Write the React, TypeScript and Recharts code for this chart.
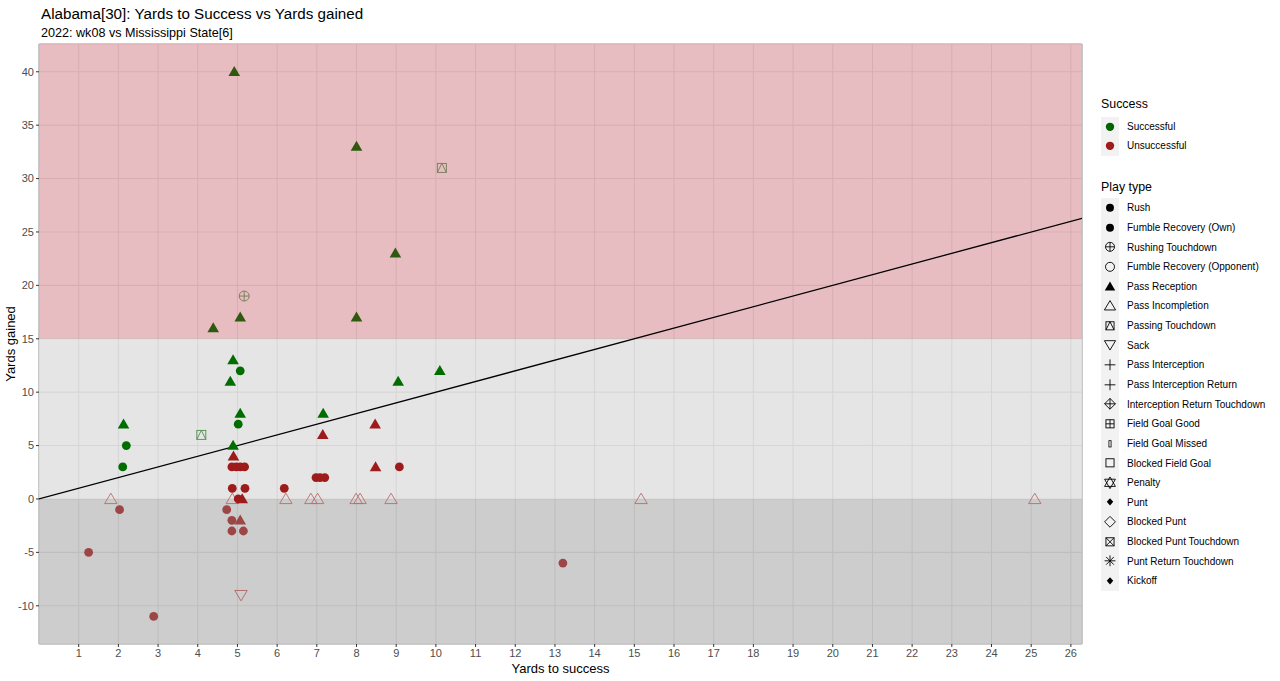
import React from "react"
import {
  ScatterChart,
  Scatter,
  XAxis,
  YAxis,
  CartesianGrid,
  ReferenceArea,
  ReferenceLine,
  Legend,
} from "recharts"

type Pt = [number, number]

// yards to success, yards gained
const rushSuccessful: Pt[] = [[5.07, 12], [2.2, 5], [2.11, 3], [5.02, 7]]
const rushUnsuccessful: Pt[] = [
  [4.86, 3], [4.97, 3], [5.07, 3], [5.18, 3],
  [4.87, 1], [5.19, 1], [6.18, 1],
  [6.98, 2], [7.08, 2], [7.2, 2], [9.08, 3],
  [5.02, 0], [4.73, -1], [4.86, -2], [4.86, -3], [5.15, -3],
  [2.03, -1], [1.25, -5], [2.89, -11], [13.2, -6],
]
const receptionSuccessful: Pt[] = [
  [4.92, 40], [8.0, 33], [8.98, 23], [8.0, 17], [4.39, 16], [5.07, 17],
  [4.89, 13], [4.82, 11], [9.05, 11], [10.1, 12], [2.13, 7], [5.07, 8],
  [7.16, 8], [4.89, 5],
]
const receptionUnsuccessful: Pt[] = [
  [4.9, 4], [7.15, 6], [8.47, 7], [8.48, 3], [5.07, -2], [5.12, 0],
]
const incompletions: Pt[] = [
  [1.81, 0], [4.87, 0], [6.22, 0], [6.85, 0], [7.02, 0], [7.99, 0],
  [8.09, 0], [8.87, 0], [15.17, 0], [25.09, 0],
]
const passingTouchdowns: Pt[] = [[4.09, 6], [10.15, 31]]
const rushingTouchdowns: Pt[] = [[5.17, 19]]
const sacks: Pt[] = [[5.09, -9]]

const xTicks = [1, 2, 3, 4, 5, 6, 7, 8, 9, 10, 11, 12, 13, 14, 15, 16, 17, 18, 19, 20, 21, 22, 23, 24, 25, 26]
const yTicks = [-10, -5, 0, 5, 10, 15, 20, 25, 30, 35, 40]
const zoneBreaks = [0, 15]

const successLabels = ["Successful", "Unsuccessful"]
const playTypes = [
  "Rush", "Fumble Recovery (Own)", "Rushing Touchdown", "Fumble Recovery (Opponent)",
  "Pass Reception", "Pass Incompletion", "Passing Touchdown", "Sack", "Pass Interception",
  "Pass Interception Return", "Interception Return Touchdown", "Field Goal Good",
  "Field Goal Missed", "Blocked Field Goal", "Penalty", "Punt", "Blocked Punt",
  "Blocked Punt Touchdown", "Punt Return Touchdown", "Kickoff",
]
const playGlyphs = [
  "dot", "dot", "circlePlus", "circleOpen", "tri", "triOpen", "sqTri", "triDown", "plus",
  "plus", "diamondPlus", "sqPlus", "thinRect", "sqOpen", "star", "diamondSmall",
  "diamondOpen", "sqX", "asterisk", "diamondSmall",
]

const FONT = '"Liberation Sans", Arial, Helvetica, sans-serif'
const X_DOMAIN: [number, number] = [0, 26.28]
const Y_DOMAIN: [number, number] = [-13.58, 42.6]

type Zone = "high" | "mid" | "low"
const zoneOf = (y: number): Zone => (y > zoneBreaks[1] ? "high" : y < zoneBreaks[0] ? "low" : "mid")

const colours: Record<string, Record<Zone, string>> = {
  good: { high: "#2e5a10", mid: "#006d00", low: "#1f5a1f" },
  bad: { high: "#7d2a1f", mid: "#9e1b1b", low: "#9c4646" },
  goodOpen: { high: "#6f7d55", mid: "#4f8f4f", low: "#4f7a4f" },
  badOpen: { high: "#a87070", mid: "#bd6c6c", low: "#b06565" },
}

function Glyph({ kind, cx, cy, color, k = 1 }: { kind: string; cx: number; cy: number; color: string; k?: number }) {
  const sw = 0.9
  const s = 5 * k
  switch (kind) {
    case "dot":
      return <circle cx={cx} cy={cy} r={4.4 * k} fill={color} />
    case "circleOpen":
      return <circle cx={cx} cy={cy} r={s} fill="none" stroke={color} strokeWidth={sw} />
    case "circlePlus":
      return (
        <g fill="none" stroke={color} strokeWidth={sw}>
          <circle cx={cx} cy={cy} r={s} />
          <line x1={cx - s} y1={cy} x2={cx + s} y2={cy} />
          <line x1={cx} y1={cy - s} x2={cx} y2={cy + s} />
        </g>
      )
    case "tri":
      return <polygon points={`${cx},${cy - 5.8 * k} ${cx - 5.8 * k},${cy + 4.2 * k} ${cx + 5.8 * k},${cy + 4.2 * k}`} fill={color} />
    case "triOpen":
      return <polygon points={`${cx},${cy - 5.8 * k} ${cx - 6.2 * k},${cy + 4.6 * k} ${cx + 6.2 * k},${cy + 4.6 * k}`} fill="none" stroke={color} strokeWidth={sw} />
    case "triDown":
      return <polygon points={`${cx},${cy + 5.8 * k} ${cx - 6.2 * k},${cy - 4.6 * k} ${cx + 6.2 * k},${cy - 4.6 * k}`} fill="none" stroke={color} strokeWidth={sw} />
    case "sqTri":
      return (
        <g fill="none" stroke={color} strokeWidth={sw}>
          <rect x={cx - 4.5 * k} y={cy - 4.5 * k} width={9 * k} height={9 * k} />
          <polyline points={`${cx - 4.5 * k},${cy + 4.5 * k} ${cx},${cy - 4.5 * k} ${cx + 4.5 * k},${cy + 4.5 * k}`} />
        </g>
      )
    case "plus":
      return (
        <g stroke={color} strokeWidth={sw}>
          <line x1={cx - 6 * k} y1={cy} x2={cx + 6 * k} y2={cy} />
          <line x1={cx} y1={cy - 6 * k} x2={cx} y2={cy + 6 * k} />
        </g>
      )
    case "diamondPlus":
      return (
        <g fill="none" stroke={color} strokeWidth={sw}>
          <polygon points={`${cx},${cy - 6 * k} ${cx + 6 * k},${cy} ${cx},${cy + 6 * k} ${cx - 6 * k},${cy}`} />
          <line x1={cx - 6 * k} y1={cy} x2={cx + 6 * k} y2={cy} />
          <line x1={cx} y1={cy - 6 * k} x2={cx} y2={cy + 6 * k} />
        </g>
      )
    case "sqPlus":
      return (
        <g fill="none" stroke={color} strokeWidth={sw}>
          <rect x={cx - 4.5 * k} y={cy - 4.5 * k} width={9 * k} height={9 * k} />
          <line x1={cx - 4.5 * k} y1={cy} x2={cx + 4.5 * k} y2={cy} />
          <line x1={cx} y1={cy - 4.5 * k} x2={cx} y2={cy + 4.5 * k} />
        </g>
      )
    case "sqX":
      return (
        <g fill="none" stroke={color} strokeWidth={sw}>
          <rect x={cx - 4.5 * k} y={cy - 4.5 * k} width={9 * k} height={9 * k} />
          <line x1={cx - 4.5 * k} y1={cy - 4.5 * k} x2={cx + 4.5 * k} y2={cy + 4.5 * k} />
          <line x1={cx - 4.5 * k} y1={cy + 4.5 * k} x2={cx + 4.5 * k} y2={cy - 4.5 * k} />
        </g>
      )
    case "sqOpen":
      return <rect x={cx - 4.5 * k} y={cy - 4.5 * k} width={9 * k} height={9 * k} fill="none" stroke={color} strokeWidth={sw} />
    case "thinRect":
      return <rect x={cx - 1.2 * k} y={cy - 3.5 * k} width={2.4 * k} height={7 * k} fill="none" stroke={color} strokeWidth={0.8} />
    case "star":
      return (
        <g fill="none" stroke={color} strokeWidth={sw}>
          <polygon points={`${cx},${cy - 6.5 * k} ${cx - 6 * k},${cy + 4 * k} ${cx + 6 * k},${cy + 4 * k}`} />
          <polygon points={`${cx},${cy + 6.5 * k} ${cx - 6 * k},${cy - 4 * k} ${cx + 6 * k},${cy - 4 * k}`} />
        </g>
      )
    case "diamondSmall":
      return <polygon points={`${cx},${cy - 4 * k} ${cx + 3.6 * k},${cy} ${cx},${cy + 4 * k} ${cx - 3.6 * k},${cy}`} fill={color} />
    case "diamondOpen":
      return <polygon points={`${cx},${cy - 6 * k} ${cx + 6 * k},${cy} ${cx},${cy + 6 * k} ${cx - 6 * k},${cy}`} fill="none" stroke={color} strokeWidth={sw} />
    case "asterisk":
      return (
        <g stroke={color} strokeWidth={sw}>
          <line x1={cx - 6 * k} y1={cy} x2={cx + 6 * k} y2={cy} />
          <line x1={cx} y1={cy - 6 * k} x2={cx} y2={cy + 6 * k} />
          <line x1={cx - 4.3 * k} y1={cy - 4.3 * k} x2={cx + 4.3 * k} y2={cy + 4.3 * k} />
          <line x1={cx - 4.3 * k} y1={cy + 4.3 * k} x2={cx + 4.3 * k} y2={cy - 4.3 * k} />
        </g>
      )
    default:
      return null
  }
}

const toPoints = (arr: Pt[]) => arr.map(([x, y]) => ({ x, y }))

const series = [
  { key: "incomplete", data: incompletions, glyph: "triOpen", tone: "badOpen" },
  { key: "sack", data: sacks, glyph: "triDown", tone: "badOpen" },
  { key: "passTd", data: passingTouchdowns, glyph: "sqTri", tone: "goodOpen" },
  { key: "rushTd", data: rushingTouchdowns, glyph: "circlePlus", tone: "goodOpen" },
  { key: "rushBad", data: rushUnsuccessful, glyph: "dot", tone: "bad" },
  { key: "rushGood", data: rushSuccessful, glyph: "dot", tone: "good" },
  { key: "recBad", data: receptionUnsuccessful, glyph: "tri", tone: "bad" },
  { key: "recGood", data: receptionSuccessful, glyph: "tri", tone: "good" },
]

const ROW = 19.63

function LegendPanel() {
  const keyBox = { position: "absolute" as const, left: 0, width: 18, background: "#f2f2f2" }
  const label = (top: number) => ({
    position: "absolute" as const, left: 26, top: top - 6.5, fontSize: 10, lineHeight: "13px", whiteSpace: "nowrap" as const,
  })
  return (
    <div style={{ position: "relative", width: 180, height: 520, fontFamily: FONT, color: "#000" }}>
      <div style={{ position: "absolute", left: 0, top: 4, fontSize: 12.4, lineHeight: "16px" }}>Success</div>
      <div style={{ ...keyBox, top: 24.5, height: ROW * 2 }} />
      {successLabels.map((s, i) => (
        <React.Fragment key={s}>
          <svg style={{ position: "absolute", left: 0, top: 24.5 + i * ROW, overflow: "visible" }} width={18} height={ROW}>
            <Glyph kind="dot" cx={9} cy={ROW / 2} k={0.95} color={i === 0 ? "#006400" : "#a01c1c"} />
          </svg>
          <div style={label(24.5 + i * ROW + ROW / 2)}>{s}</div>
        </React.Fragment>
      ))}
      <div style={{ position: "absolute", left: 0, top: 87, fontSize: 12.4, lineHeight: "16px" }}>Play type</div>
      <div style={{ ...keyBox, top: 106, height: ROW * playTypes.length }} />
      {playTypes.map((p, i) => (
        <React.Fragment key={p}>
          <svg style={{ position: "absolute", left: 0, top: 106 + i * ROW, overflow: "visible" }} width={18} height={ROW}>
            <Glyph kind={playGlyphs[i]} cx={9} cy={ROW / 2} k={0.9} color="#000" />
          </svg>
          <div style={label(106 + i * ROW + ROW / 2)}>{p}</div>
        </React.Fragment>
      ))}
    </div>
  )
}

export default function App() {
  return (
    <div style={{ position: "absolute", left: 0, top: 0, width: 1280, height: 681, background: "#fff", fontFamily: FONT }}>
      <div style={{ position: "absolute", left: 41, top: 5, fontSize: 15.2, lineHeight: "18px", color: "#000" }}>
        Alabama[30]: Yards to Success vs Yards gained
      </div>
      <div style={{ position: "absolute", left: 41, top: 25, fontSize: 12.6, lineHeight: "16px", color: "#000" }}>
        2022: wk08 vs Mississippi State[6]
      </div>
      <ScatterChart
        width={1280}
        height={681}
        margin={{ top: 44, right: 198, bottom: 0, left: 0 }}
        style={{ fontFamily: FONT }}
      >
        <CartesianGrid stroke="#9b9b9b" strokeWidth={1.1} fill="#ffffff" />
        <ReferenceArea y1={zoneBreaks[1]} y2={Y_DOMAIN[1]} fill="#e4b2b6" fillOpacity={0.85} stroke="none" ifOverflow="hidden" />
        <ReferenceArea y1={zoneBreaks[0]} y2={zoneBreaks[1]} fill="#e0e0e0" fillOpacity={0.85} stroke="none" ifOverflow="hidden" />
        <ReferenceArea y1={Y_DOMAIN[0]} y2={zoneBreaks[0]} fill="#c4c4c4" fillOpacity={0.85} stroke="none" ifOverflow="hidden" />
        <XAxis
          type="number"
          dataKey="x"
          domain={X_DOMAIN}
          allowDataOverflow
          ticks={xTicks}
          interval={0}
          height={37}
          axisLine={false}
          tickLine={{ stroke: "#333333" }}
          tickSize={3}
          tick={{ fill: "#4d4d4d", fontSize: 11 }}
          label={{ value: "Yards to success", position: "insideBottom", offset: 8, style: { fill: "#000", fontSize: 13 } }}
        />
        <YAxis
          type="number"
          dataKey="y"
          domain={Y_DOMAIN}
          allowDataOverflow
          ticks={yTicks}
          interval={0}
          width={39}
          axisLine={false}
          tickLine={{ stroke: "#333333" }}
          tickSize={3}
          tick={{ fill: "#4d4d4d", fontSize: 11 }}
          label={{ value: "Yards gained", angle: -90, position: "insideLeft", offset: 10, style: { fill: "#000", fontSize: 13, textAnchor: "middle" } }}
        />
        <ReferenceLine
          segment={[{ x: 0, y: 0 }, { x: X_DOMAIN[1], y: X_DOMAIN[1] }]}
          stroke="#000"
          strokeWidth={1.3}
          ifOverflow="hidden"
        />
        {series.map((s) => (
          <Scatter
            key={s.key}
            data={toPoints(s.data)}
            isAnimationActive={false}
            legendType="none"
            shape={(p: any) => (
              <Glyph kind={s.glyph} cx={p.cx} cy={p.cy} color={colours[s.tone][zoneOf(p.payload.y)]} />
            )}
          />
        ))}
        <Legend
          layout="horizontal"
          verticalAlign="middle"
          content={<LegendPanel />}
          wrapperStyle={{ position: "absolute", left: 1101, top: 92, width: 180 }}
        />
      </ScatterChart>
    </div>
  )
}
